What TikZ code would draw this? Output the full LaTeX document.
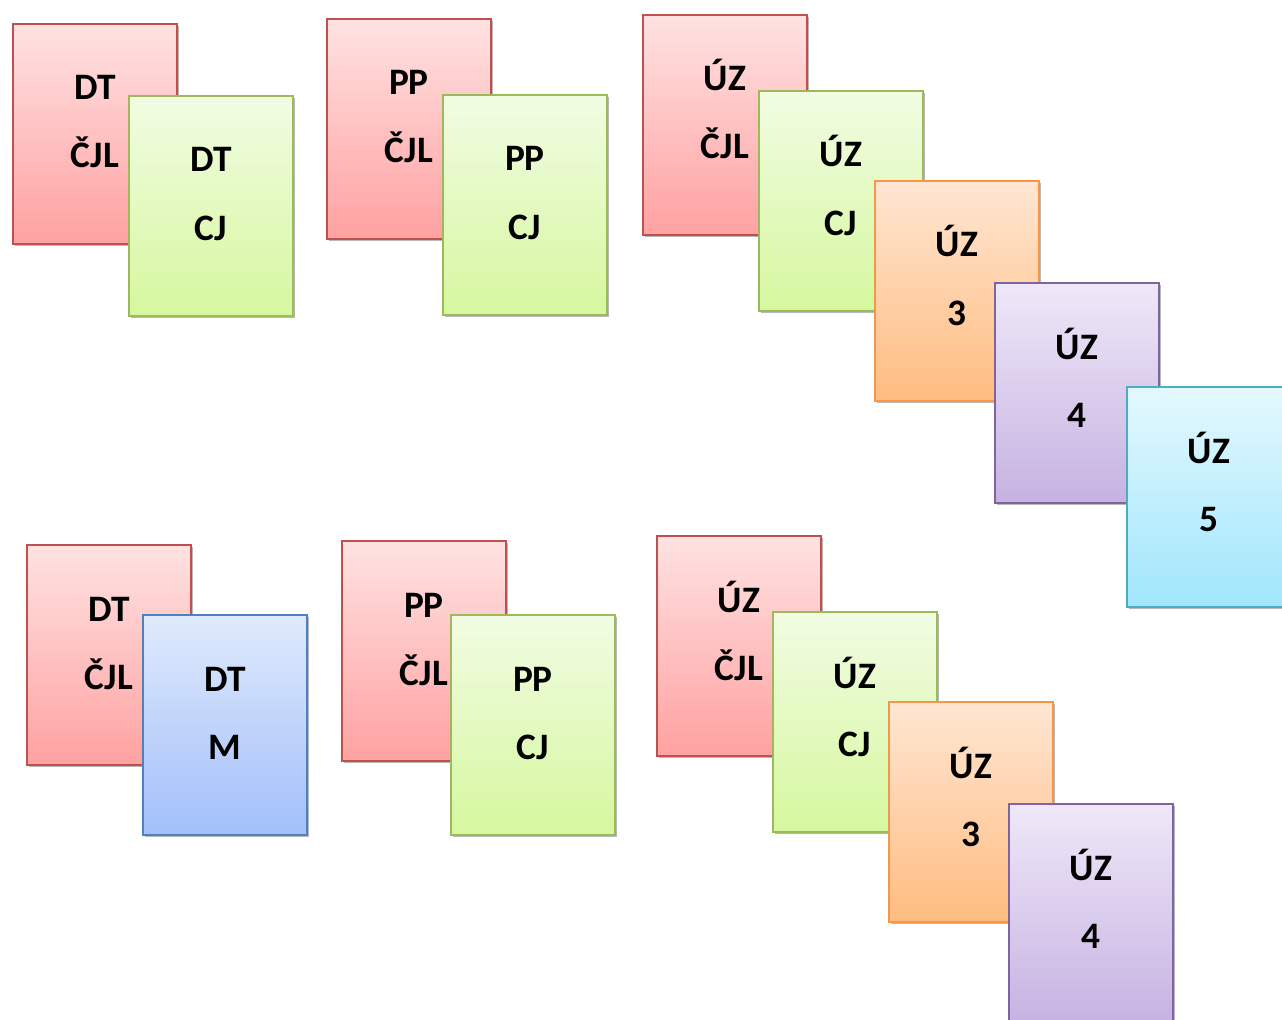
\documentclass[tikz,border=0pt]{standalone}
\usepackage{fontspec}
\setmainfont{Carlito}
\usetikzlibrary{calc,shadows}
\tikzset{
  cardbox/.style={rectangle, minimum width=123pt, minimum height=165pt, inner sep=0pt, line width=1.4pt, anchor=north west,
    drop shadow={shadow xshift=1.6pt, shadow yshift=-1.6pt, fill=black, opacity=0.28}},
  redc/.style={draw=cRedB, top color=cRedT, bottom color=cRedD},
  greenc/.style={draw=cGrnB, top color=cGrnT, bottom color=cGrnD},
  orangec/.style={draw=cOrB, top color=cOrT, bottom color=cOrD},
  purplec/.style={draw=cPuB, top color=cPuT, bottom color=cPuD},
  cyanc/.style={draw=cCyB, top color=cCyT, bottom color=cCyD},
  bluec/.style={draw=cBlB, top color=cBlT, bottom color=cBlD},
  cardtext/.style={anchor=base, inner sep=0pt, font=\fontsize{28}{30}\selectfont\bfseries, text=black}
}
\definecolor{cRedB}{HTML}{C0504D}\definecolor{cRedT}{HTML}{FFE2E2}\definecolor{cRedD}{HTML}{FFA1A1}
\definecolor{cGrnB}{HTML}{9BBB59}\definecolor{cGrnT}{HTML}{F1FCE3}\definecolor{cGrnD}{HTML}{D6F79E}
\definecolor{cOrB}{HTML}{F79646}\definecolor{cOrT}{HTML}{FFE6D2}\definecolor{cOrD}{HTML}{FFBC80}
\definecolor{cPuB}{HTML}{8064A2}\definecolor{cPuT}{HTML}{EFE8F8}\definecolor{cPuD}{HTML}{C6B2E2}
\definecolor{cCyB}{HTML}{4BACC6}\definecolor{cCyT}{HTML}{E4F8FE}\definecolor{cCyD}{HTML}{A0E6FC}
\definecolor{cBlB}{HTML}{4F81BD}\definecolor{cBlT}{HTML}{DFE9FB}\definecolor{cBlD}{HTML}{A2C0FB}
\newcommand\mycard[6]{%
  \node[cardbox,#4] (#1) at (#2,#3) {};
  \node[cardtext] (#1a) at ($(#1.north)+(0,77)$) {#5};
  \node[cardtext] (#1b) at ($(#1.north)+(0,145)$) {#6};
}
\begin{document}
\begin{tikzpicture}[x=0.75pt,y=-0.75pt]
\useasboundingbox (0,0) rectangle (1282,1020);
\clip (0,0) rectangle (1282,1020);
% top row
\mycard{a1}{12}{23}{redc}{DT}{ČJL}
\mycard{a2}{128}{95}{greenc}{DT}{CJ}
\mycard{b1}{326}{18}{redc}{PP}{ČJL}
\mycard{b2}{442}{94}{greenc}{PP}{CJ}
\mycard{c1}{642}{14}{redc}{ÚZ}{ČJL}
\mycard{c2}{758}{90}{greenc}{ÚZ}{CJ}
\mycard{c3}{874}{180}{orangec}{ÚZ}{3}
\mycard{c4}{994}{282}{purplec}{ÚZ}{4}
\mycard{c5}{1126}{386}{cyanc}{ÚZ}{5}
% bottom row
\mycard{d1}{26}{544}{redc}{DT}{ČJL}
\mycard{d2}{142}{614}{bluec}{DT}{M}
\mycard{e1}{341}{540}{redc}{PP}{ČJL}
\mycard{e2}{450}{614}{greenc}{PP}{CJ}
\mycard{f1}{656}{535}{redc}{ÚZ}{ČJL}
\mycard{f2}{772}{611}{greenc}{ÚZ}{CJ}
\mycard{f3}{888}{701}{orangec}{ÚZ}{3}
\mycard{f4}{1008}{803}{purplec}{ÚZ}{4}
\end{tikzpicture}
\end{document}
